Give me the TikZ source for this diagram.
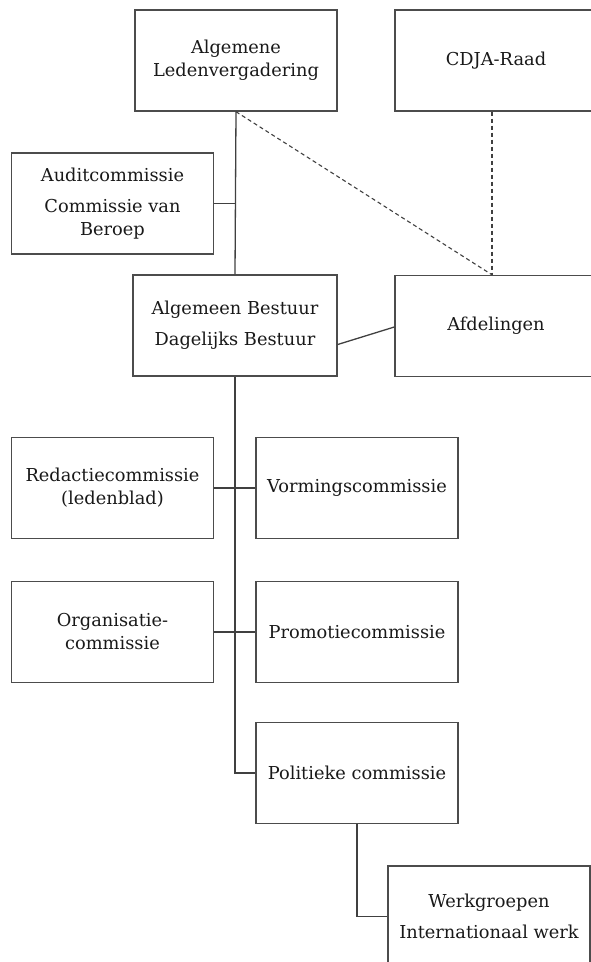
\documentclass[tikz,border=0pt]{standalone}
\usepackage{fontspec}
\setmainfont{DejaVu Serif}
\usetikzlibrary{calc}
\begin{document}
\begin{tikzpicture}[x=1pt,y=-1pt,
  orgbox/.style={draw=black!70, line width=1.4pt, rectangle, minimum width=202pt, minimum height=101pt,
    inner sep=0pt, align=center, font=\fontsize{17.8}{23}\selectfont, text=black!90},
  wideorgbox/.style={orgbox, minimum width=204pt},
  conn/.style={draw=black!75, line width=1.3pt},
  dconn/.style={draw=black!75, line width=1.1pt, dash pattern=on 4pt off 3pt}]
\useasboundingbox (0,0) rectangle (591,962);
\begin{scope}
\clip (0,0) rectangle (591,962);
\node[orgbox] (alv) at (236,60.5) {Algemene\\Ledenvergadering};
\node[orgbox] (cdja) at (496,60.5) {CDJA-Raad};
\node[orgbox] (audit) at (112.5,203.5) {Auditcommissie\\[8pt]Commissie van\\Beroep};
\node[wideorgbox] (bestuur) at (235,325.5) {Algemeen Bestuur\\[8pt]Dagelijks Bestuur};
\node[orgbox] (afd) at (496,326) {Afdelingen};
\node[orgbox] (red) at (112.5,488) {Redactiecommissie\\(ledenblad)};
\node[orgbox] (vorm) at (357,488) {Vormingscommissie};
\node[orgbox] (org) at (112.5,632) {Organisatie-\\commissie};
\node[orgbox] (prom) at (357,632) {Promotiecommissie};
\node[orgbox] (pol) at (357,773) {Politieke commissie};
\node[orgbox] (werk) at (489,916.5) {Werkgroepen\\[8pt]Internationaal werk};
\end{scope}
% connectors
\draw[conn] (alv.south) -- (bestuur.north);
\draw[conn] (audit.east) -- (audit.east -| alv.south);
\coordinate (tend) at (bestuur.south |- pol.west);
\draw[conn] (bestuur.south) -- (tend) -- (pol.west);
\draw[conn] (red.east) -- (vorm.west);
\draw[conn] (org.east) -- (prom.west);
\draw[conn] (pol.south) |- (werk.west);
\draw[conn] ($(bestuur.east)+(0,19)$) -- ($(afd.west)+(0,1)$);
\coordinate (dj) at ($(afd.north)+(-4,0)$);
\draw[dconn] (alv.south) -- (dj);
\draw[dconn] (cdja.south -| dj) -- (dj);
\end{tikzpicture}
\end{document}
